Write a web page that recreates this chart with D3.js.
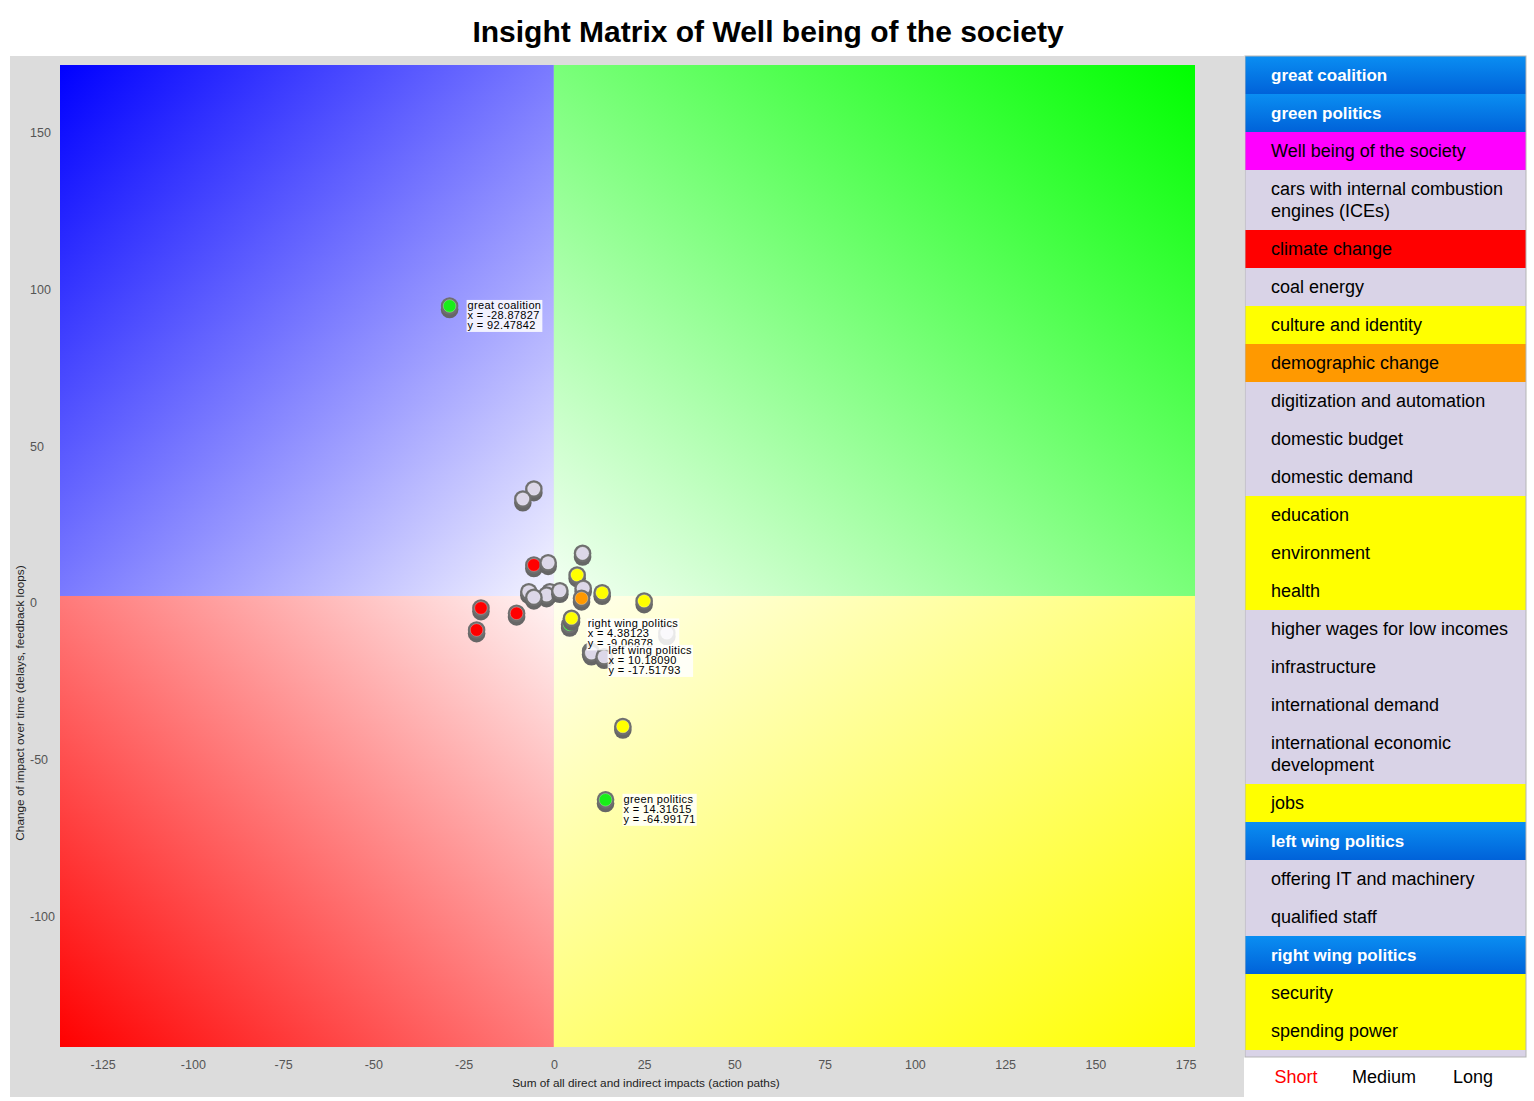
<!DOCTYPE html>
<html><head><meta charset="utf-8">
<script src="https://cdn.jsdelivr.net/npm/d3@7"></script>
<style>
body{margin:0;background:#fff;font-family:"Liberation Sans",Arial,Helvetica,sans-serif}
svg{display:block}
</style>
</head><body><svg id="c" width="1534" height="1101"></svg>
<script>
// ---------- data ----------
const chartTitle = "Insight Matrix of Well being of the society";
const xAxisTitle = "Sum of all direct and indirect impacts (action paths)";
const yAxisTitle = "Change of impact over time (delays, feedback loops)";
const xTicks = [-125, -100, -75, -50, -25, 0, 25, 50, 75, 100, 125, 150, 175];
const yTicks = [-100, -50, 0, 50, 100, 150];
const xDomain = [-136.8, 177.6];
const yDomain = [-143.8, 169.3];

// points (draw order), unnamed points have empty names
const pointNames = ["", "", "", "", "", "", "", "", "", "", "", "", "", "", "", "", "", "",
  "right wing politics", "", "left wing politics", "", "", "", "", "great coalition", "green politics"];
const pointX = [-5.54, -8.59, 7.95, -5.54, -1.58, 6.45, -6.93, -1.11, -2.02, -5.54, 1.66, 8.12, 7.67, 13.38, 25.01,
  -20.2, -10.33, -21.4, 4.38123, 4.90, 10.18090, 10.4, 13.93, 31.3, 19.11, -28.87827, 14.31615];
const pointY = [34.1, 30.9, 13.6, 9.89, 10.6, 6.70, 1.37, 1.37, 0.32, -0.41, 1.69, 2.46, -0.73, 1.05, -1.59,
  -3.83, -5.52, -10.84, -9.06878, -7.11, -17.51793, -18.2, -19.36, -11.8, -41.6, 92.47842, -64.99171];
const pointGroup = ["other", "other", "other", "red", "other", "yellow", "other", "other", "other", "other", "other", "other", "orange", "yellow", "yellow",
  "red", "red", "red", "party", "yellow", "party", "other", "other", "other", "yellow", "party", "party"];

const legendItems = ["great coalition", "green politics", "Well being of the society",
  "cars with internal combustion engines (ICEs)", "climate change", "coal energy", "culture and identity",
  "demographic change", "digitization and automation", "domestic budget", "domestic demand", "education",
  "environment", "health", "higher wages for low incomes", "infrastructure", "international demand",
  "international economic development", "jobs", "left wing politics", "offering IT and machinery",
  "qualified staff", "right wing politics", "security", "spending power"];
const legendGroups = ["party", "party", "target", "other", "red", "other", "yellow", "orange", "other", "other",
  "other", "yellow", "yellow", "yellow", "other", "other", "other", "other", "yellow", "party", "other",
  "other", "party", "yellow", "yellow"];
const horizons = ["Short", "Medium", "Long"];

// ---------- styles ----------
const pointFill = {other: "#dcd7e8", red: "#ff0000", yellow: "#ffff00", orange: "#ff9900", party: "#19ee19"};
const legendFill = {other: "#d9d3e7", red: "#ff0000", yellow: "#ffff00", orange: "#ff9900", target: "#ff00ff", party: "url(#legBlue)"};

const svg = d3.select("#c");
const defs = svg.append("defs");

const x = d3.scaleLinear().domain(xDomain).range([60, 1195]);
const y = d3.scaleLinear().domain(yDomain).range([1047, 65]);

// title
svg.append("text").attr("x", 768).attr("y", 42).attr("text-anchor", "middle")
  .attr("font-size", 30).attr("font-weight", "bold").attr("fill", "#000").text(chartTitle);

// gray panel
svg.append("rect").attr("x", 10).attr("y", 56).attr("width", 1234).attr("height", 1041).attr("fill", "#dcdcdc");

// quadrant gradients
const quads = [
  {id: "qBlue", c0: "#0000ff", c1: "#f4f4ff", v: [0, 0, 1, 1], xs: [xDomain[0], 0], ys: [0, yDomain[1]]},
  {id: "qGreen", c0: "#00ff00", c1: "#f4fff4", v: [1, 0, 0, 1], xs: [0, xDomain[1]], ys: [0, yDomain[1]]},
  {id: "qRed", c0: "#ff0000", c1: "#fff4f4", v: [0, 1, 1, 0], xs: [xDomain[0], 0], ys: [yDomain[0], 0]},
  {id: "qYellow", c0: "#ffff00", c1: "#fffff0", v: [1, 1, 0, 0], xs: [0, xDomain[1]], ys: [yDomain[0], 0]}
];
quads.forEach(q => {
  const g = defs.append("linearGradient").attr("id", q.id)
    .attr("x1", q.v[0]).attr("y1", q.v[1]).attr("x2", q.v[2]).attr("y2", q.v[3]);
  g.append("stop").attr("offset", 0).attr("stop-color", q.c0);
  g.append("stop").attr("offset", 1).attr("stop-color", q.c1);
  svg.append("rect").attr("x", x(q.xs[0])).attr("y", y(q.ys[1]))
    .attr("width", x(q.xs[1]) - x(q.xs[0])).attr("height", y(q.ys[0]) - y(q.ys[1]))
    .attr("fill", `url(#${q.id})`);
});

// axes
const plain = d => String(d);
const xa = svg.append("g").attr("transform", "translate(0,1047)")
  .call(d3.axisBottom(x).tickValues(xTicks).tickFormat(plain).tickSize(0).tickPadding(13));
xa.select(".domain").remove();
xa.selectAll("text").attr("font-size", 12.5).attr("fill", "#555").attr("font-family", "Liberation Sans, Arial, sans-serif");

const ya = svg.append("g").attr("transform", "translate(30,0)")
  .call(d3.axisLeft(y).tickValues(yTicks).tickFormat(plain).tickSize(0));
ya.select(".domain").remove();
ya.selectAll("text").attr("x", 0).attr("y", 7).attr("text-anchor", "start")
  .attr("font-size", 12.5).attr("fill", "#555").attr("font-family", "Liberation Sans, Arial, sans-serif");

svg.append("text").attr("x", 646).attr("y", 1087).attr("text-anchor", "middle")
  .attr("font-size", 11.8).attr("fill", "#222").text(xAxisTitle);
svg.append("text").attr("transform", "translate(24,703) rotate(-90)").attr("text-anchor", "middle")
  .attr("font-size", 11.8).attr("fill", "#222").text(yAxisTitle);

// points
const pts = pointX.map((v, i) => ({x: v, y: pointY[i], g: pointGroup[i], name: pointNames[i]}));
const pg = svg.append("g");
pts.forEach(d => {
  const cx = x(d.x), cy = y(d.y);
  const g = pg.append("g");
  g.append("circle").attr("cx", cx).attr("cy", cy + 3.6).attr("r", 8.8).attr("fill", "#666");
  g.append("circle").attr("cx", cx).attr("cy", cy).attr("r", 8.8).attr("fill", "#6f6f6f");
  g.append("circle").attr("cx", cx).attr("cy", cy).attr("r", 6.3).attr("fill", pointFill[d.g])
    .attr("stroke", "rgba(255,255,255,0.35)").attr("stroke-width", 0.8);
});

// labels for named points
const fmt = v => v.toFixed(5);
pts.filter(d => d.name).forEach(d => {
  const cx = x(d.x), cy = y(d.y);
  const g = svg.append("g").attr("transform", `translate(${cx + 18},${cy - 7})`);
  const rect = g.append("rect").attr("fill", "#fff").attr("opacity", 0.85);
  const lines = [d.name, "x = " + fmt(d.x), "y = " + fmt(d.y)];
  const t = g.append("g");
  lines.forEach((s, i) => t.append("text").attr("x", 0).attr("y", 10 + i * 10)
    .attr("font-size", 11).attr("letter-spacing", 0.35).attr("fill", "#000").text(s));
  const bb = t.node().getBBox();
  rect.attr("x", bb.x - 1).attr("y", bb.y + 1).attr("width", bb.width + 2).attr("height", bb.height);
});

// legend
const lg = defs.append("linearGradient").attr("id", "legBlue").attr("x1", 0).attr("y1", 0).attr("x2", 0).attr("y2", 1);
lg.append("stop").attr("offset", 0).attr("stop-color", "#0a8ef2");
lg.append("stop").attr("offset", 1).attr("stop-color", "#0062d9");
defs.append("clipPath").attr("id", "legClip").append("rect").attr("x", 0).attr("y", 0).attr("width", 281).attr("height", 1001);

const leg = svg.append("g").attr("transform", "translate(1245,56)");
leg.append("rect").attr("width", 281).attr("height", 1001).attr("fill", "#d9d3e7");
const body = leg.append("g").attr("clip-path", "url(#legClip)");
let yy = 0;
legendItems.forEach((name, i) => {
  const grp = legendGroups[i];
  const isParty = grp === "party";
  const row = body.append("g").attr("transform", `translate(0,${yy})`);
  const rect = row.append("rect").attr("width", 281).attr("fill", legendFill[grp]);
  const txt = row.append("text").attr("x", 26).attr("y", 25).attr("font-size", isParty ? 17 : 18)
    .attr("fill", isParty ? "#fff" : "#000").attr("font-weight", isParty ? "bold" : "normal");
  // word wrap
  const words = name.split(" ");
  let line = [], lineNo = 0;
  let ts = txt.append("tspan").attr("x", 26).attr("dy", 0);
  words.forEach(w => {
    line.push(w);
    ts.text(line.join(" "));
    if (ts.node().getComputedTextLength() > 248 && line.length > 1) {
      line.pop(); ts.text(line.join(" "));
      line = [w]; lineNo++;
      ts = txt.append("tspan").attr("x", 26).attr("dy", 22).text(w);
    }
  });
  const h = 38 + lineNo * 22;
  rect.attr("height", h);
  yy += h;
});
leg.append("rect").attr("width", 281).attr("height", 1001).attr("fill", "none").attr("stroke", "#b5b5b5").attr("stroke-width", 1);

// horizon selector
const hx = [1296, 1384, 1473];
horizons.forEach((h, i) => svg.append("text").attr("x", hx[i]).attr("y", 1083).attr("text-anchor", "middle")
  .attr("font-size", 18).attr("fill", i === 0 ? "#ff0000" : "#000").text(h));
</script>
</body></html>
